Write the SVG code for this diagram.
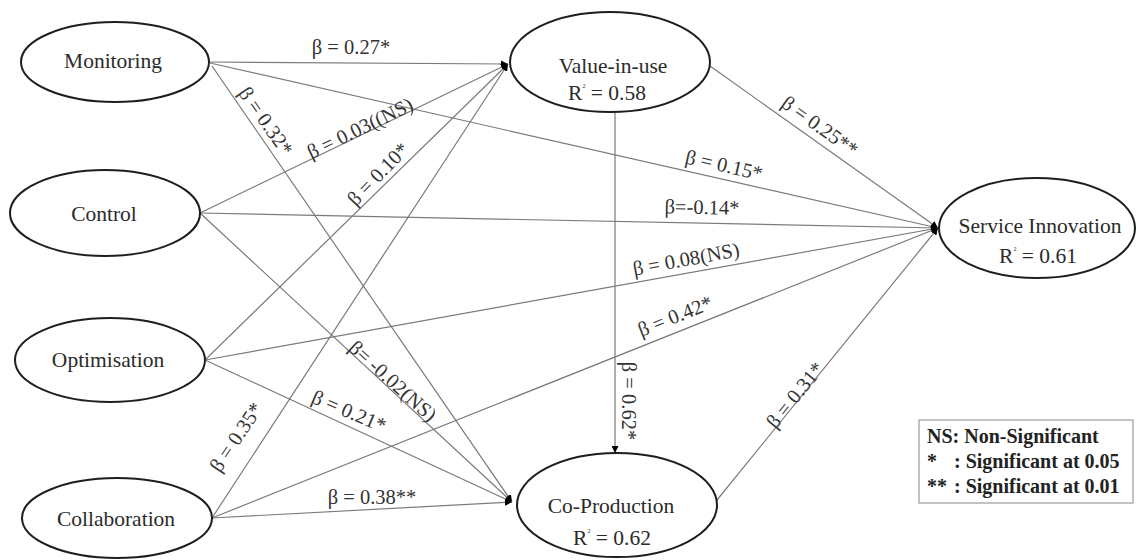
<svg xmlns="http://www.w3.org/2000/svg" width="1140" height="560" viewBox="0 0 1140 560">
  <style>
    .node ellipse { fill: #ffffff; stroke: #1e1e1e; stroke-width: 2; }
    .name { font-family: "Liberation Serif", "Times New Roman", serif; font-size: 21.5px; fill: #2b2b2b; text-anchor: middle; }
    .edge { stroke: #7a7a7a; stroke-width: 1.2; fill: none; marker-end: url(#tip); }
    .beta { font-family: "Liberation Serif", "Times New Roman", serif; font-size: 20.5px; fill: #333333; text-anchor: middle; dominant-baseline: central; }
    .key { font-family: "Liberation Serif", "Times New Roman", serif; font-size: 20px; font-weight: bold; fill: #222222; }
  </style>
  <defs>
    <marker id="tip" viewBox="0 0 10 10" refX="10" refY="5" markerWidth="7" markerHeight="7" markerUnits="userSpaceOnUse" orient="auto">
      <path d="M0,0 L10,5 L0,10 z" fill="#000000"/>
    </marker>
  </defs>
  <rect width="1140" height="560" fill="#ffffff"/>

  <!-- paths between constructs -->
  <g id="connectors">
    <line class="edge" x1="210" y1="62" x2="508" y2="64"/>
    <line class="edge" x1="210" y1="63" x2="938" y2="228"/>
    <line class="edge" x1="212" y1="66" x2="512" y2="502"/>
    <line class="edge" x1="200" y1="213" x2="508" y2="64"/>
    <line class="edge" x1="200" y1="213" x2="938" y2="228"/>
    <line class="edge" x1="200" y1="213" x2="512" y2="502"/>
    <line class="edge" x1="205" y1="360" x2="508" y2="64"/>
    <line class="edge" x1="205" y1="360" x2="938" y2="228"/>
    <line class="edge" x1="205" y1="360" x2="512" y2="502"/>
    <line class="edge" x1="212" y1="518" x2="508" y2="64"/>
    <line class="edge" x1="212" y1="518" x2="938" y2="228"/>
    <line class="edge" x1="212" y1="518" x2="512" y2="502"/>
    <line class="edge" x1="710" y1="66" x2="938" y2="228"/>
    <line class="edge" x1="615" y1="112" x2="615" y2="453"/>
    <line class="edge" x1="717" y1="500" x2="938" y2="228"/>

    <text class="beta" x="351" y="47">β = 0.27*</text>
    <text class="beta" transform="translate(266,121) rotate(55)">β = 0.32*</text>
    <text class="beta" transform="translate(360,128) rotate(-25.8)">β = 0.03((NS)</text>
    <text class="beta" transform="translate(378,174) rotate(-46)">β = 0.10*</text>
    <text class="beta" transform="translate(724,165) rotate(12.8)">β = 0.15*</text>
    <text class="beta" transform="translate(702,207) rotate(1.2)">β=-0.14*</text>
    <text class="beta" transform="translate(686,259) rotate(-10.5)">β = 0.08(NS)</text>
    <text class="beta" transform="translate(820,126) rotate(35.6)">β = 0.25**</text>
    <text class="beta" transform="translate(675,316) rotate(-21.8)">β = 0.42*</text>
    <text class="beta" transform="translate(795,395) rotate(-51)">β = 0.31*</text>
    <text class="beta" transform="translate(629,401) rotate(90)">β = 0.62*</text>
    <text class="beta" transform="translate(393,381) rotate(42)">β= -0.02(NS)</text>
    <text class="beta" transform="translate(349,411) rotate(23)">β = 0.21*</text>
    <text class="beta" transform="translate(236,437) rotate(-56)">β = 0.35*</text>
    <text class="beta" x="372" y="497">β = 0.38**</text>
  </g>

  <g id="monitoring" class="node">
    <ellipse cx="115" cy="62" rx="94" ry="40"/>
    <text class="name" x="113" y="68">Monitoring</text>
  </g>
  <g id="control" class="node">
    <ellipse cx="105" cy="213" rx="95" ry="43"/>
    <text class="name" x="104" y="221">Control</text>
  </g>
  <g id="optimisation" class="node">
    <ellipse cx="110" cy="360" rx="95" ry="42"/>
    <text class="name" x="108" y="367">Optimisation</text>
  </g>
  <g id="collaboration" class="node">
    <ellipse cx="117" cy="518" rx="95" ry="40"/>
    <text class="name" x="116" y="526">Collaboration</text>
  </g>
  <g id="value-in-use" class="node">
    <ellipse cx="610" cy="62" rx="100" ry="50"/>
    <text class="name" x="613" y="73">Value-in-use</text>
    <text class="name" x="607" y="100">R<tspan font-size="6" dy="-12">2</tspan><tspan dy="12"> = 0.58</tspan></text>
  </g>
  <g id="service-innovation" class="node">
    <ellipse cx="1037" cy="228" rx="98" ry="50"/>
    <text class="name" x="1040" y="233">Service Innovation</text>
    <text class="name" x="1038" y="263">R<tspan font-size="6" dy="-12">2</tspan><tspan dy="12"> = 0.61</tspan></text>
  </g>
  <g id="co-production" class="node">
    <ellipse cx="617" cy="505" rx="100" ry="52"/>
    <text class="name" x="611" y="513">Co-Production</text>
    <text class="name" x="612" y="545">R<tspan font-size="6" dy="-12">2</tspan><tspan dy="12"> = 0.62</tspan></text>
  </g>

  <!-- significance key -->
  <g id="legend">
    <rect x="919" y="420" width="214" height="83" fill="#ffffff" stroke="#9a9a9a" stroke-width="1.2"/>
    <text class="key" x="927" y="443">NS: Non-Significant</text>
    <text class="key" x="927" y="468">*<tspan x="954">: Significant at 0.05</tspan></text>
    <text class="key" x="927" y="493">**<tspan x="954">: Significant at 0.01</tspan></text>
  </g>
</svg>
